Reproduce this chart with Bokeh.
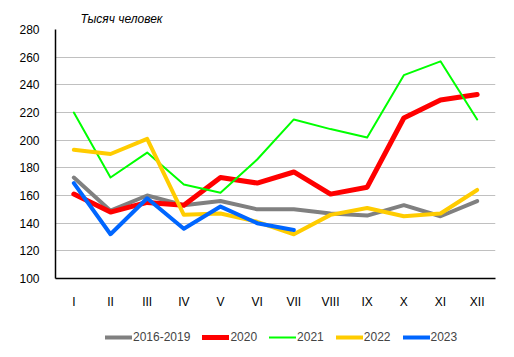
from bokeh.plotting import figure
from bokeh.layouts import column
from bokeh.models import FactorRange, Range1d, Legend, LegendItem, FixedTicker
from bokeh.embed import file_html
from bokeh.resources import INLINE

months = ["I", "II", "III", "IV", "V", "VI", "VII", "VIII", "IX", "X", "XI", "XII"]
s_2016_2019 = [173, 149, 160, 153, 156, 150, 150, 147, 145.5, 153, 145, 156]
s_2020 = [161, 148, 155, 153, 173, 169, 177, 161, 166, 216, 229, 233]
s_2021 = [220, 173, 191, 168, 162, 186, 215, 208, 202, 247, 257, 215]
s_2022 = [193, 190, 201, 146, 147, 141, 132, 146, 151, 145, 147, 164]
s_2023 = [169, 132, 158, 136, 152, 140, 135]
y_ticks = [100, 120, 140, 160, 180, 200, 220, 240, 260, 280]

series = [
    ("2016-2019", s_2016_2019, "#808080", 4),
    ("2020", s_2020, "#ff0000", 5),
    ("2021", s_2021, "#00ff00", 2),
    ("2022", s_2022, "#ffcc00", 4),
    ("2023", s_2023, "#0066ff", 4),
]

p = figure(width=514, height=315, output_backend="svg", toolbar_location=None,
           x_range=FactorRange(*months, range_padding=0), y_range=Range1d(100, 280),
           min_border_left=55, min_border_right=19, min_border_top=29, min_border_bottom=37,
           title="Тысяч человек")
p.outline_line_color = None
p.background_fill_color = "white"
p.border_fill_color = "white"
p.title.text_font = "Liberation Sans"
p.title.text_font_style = "italic"
p.title.text_font_size = "12px"
p.title.text_color = "black"
p.title.offset = 25
p.title.standoff = 7

for name, vals, col, w in series:
    p.line(months[:len(vals)], vals, line_color=col, line_width=w, line_join="round", line_cap="round")

p.xgrid.grid_line_color = None
p.ygrid.grid_line_color = "#c0c0c0"
p.ygrid.grid_line_width = 1
p.yaxis.ticker = FixedTicker(ticks=y_ticks)

for ax in (p.xaxis[0], p.yaxis[0]):
    ax.axis_line_color = "black"
    ax.axis_line_width = 1.5
    ax.major_tick_line_color = None
    ax.minor_tick_line_color = None
    ax.major_label_text_font = "Liberation Sans"
    ax.major_label_text_font_size = "12px"
    ax.major_label_text_color = "black"
p.yaxis.major_label_standoff = 10
p.xaxis.major_label_standoff = 10

# legend strip below the chart (its sample lines sit outside the visible range)
pl = figure(width=514, height=42, output_backend="svg", toolbar_location=None,
            x_range=Range1d(0, 1), y_range=Range1d(0, 1),
            x_axis_location=None, y_axis_location=None,
            min_border=0)
pl.outline_line_color = None
pl.grid.visible = False
items = []
for name, vals, col, w in series:
    r = pl.line([5, 6], [5, 6], line_color=col, line_width=w, line_cap="round")
    items.append(LegendItem(label=name, renderers=[r]))
legend = Legend(items=items, orientation="horizontal", location=(50, 13),
                label_text_font="Liberation Sans", label_text_font_size="12px",
                glyph_width=27, glyph_height=12, label_standoff=1, spacing=12,
                border_line_color=None, background_fill_alpha=0, padding=0, margin=0)
pl.add_layout(legend, "center")

layout = column(p, pl, spacing=0)
open("out.html", "w").write(file_html(layout, INLINE))
